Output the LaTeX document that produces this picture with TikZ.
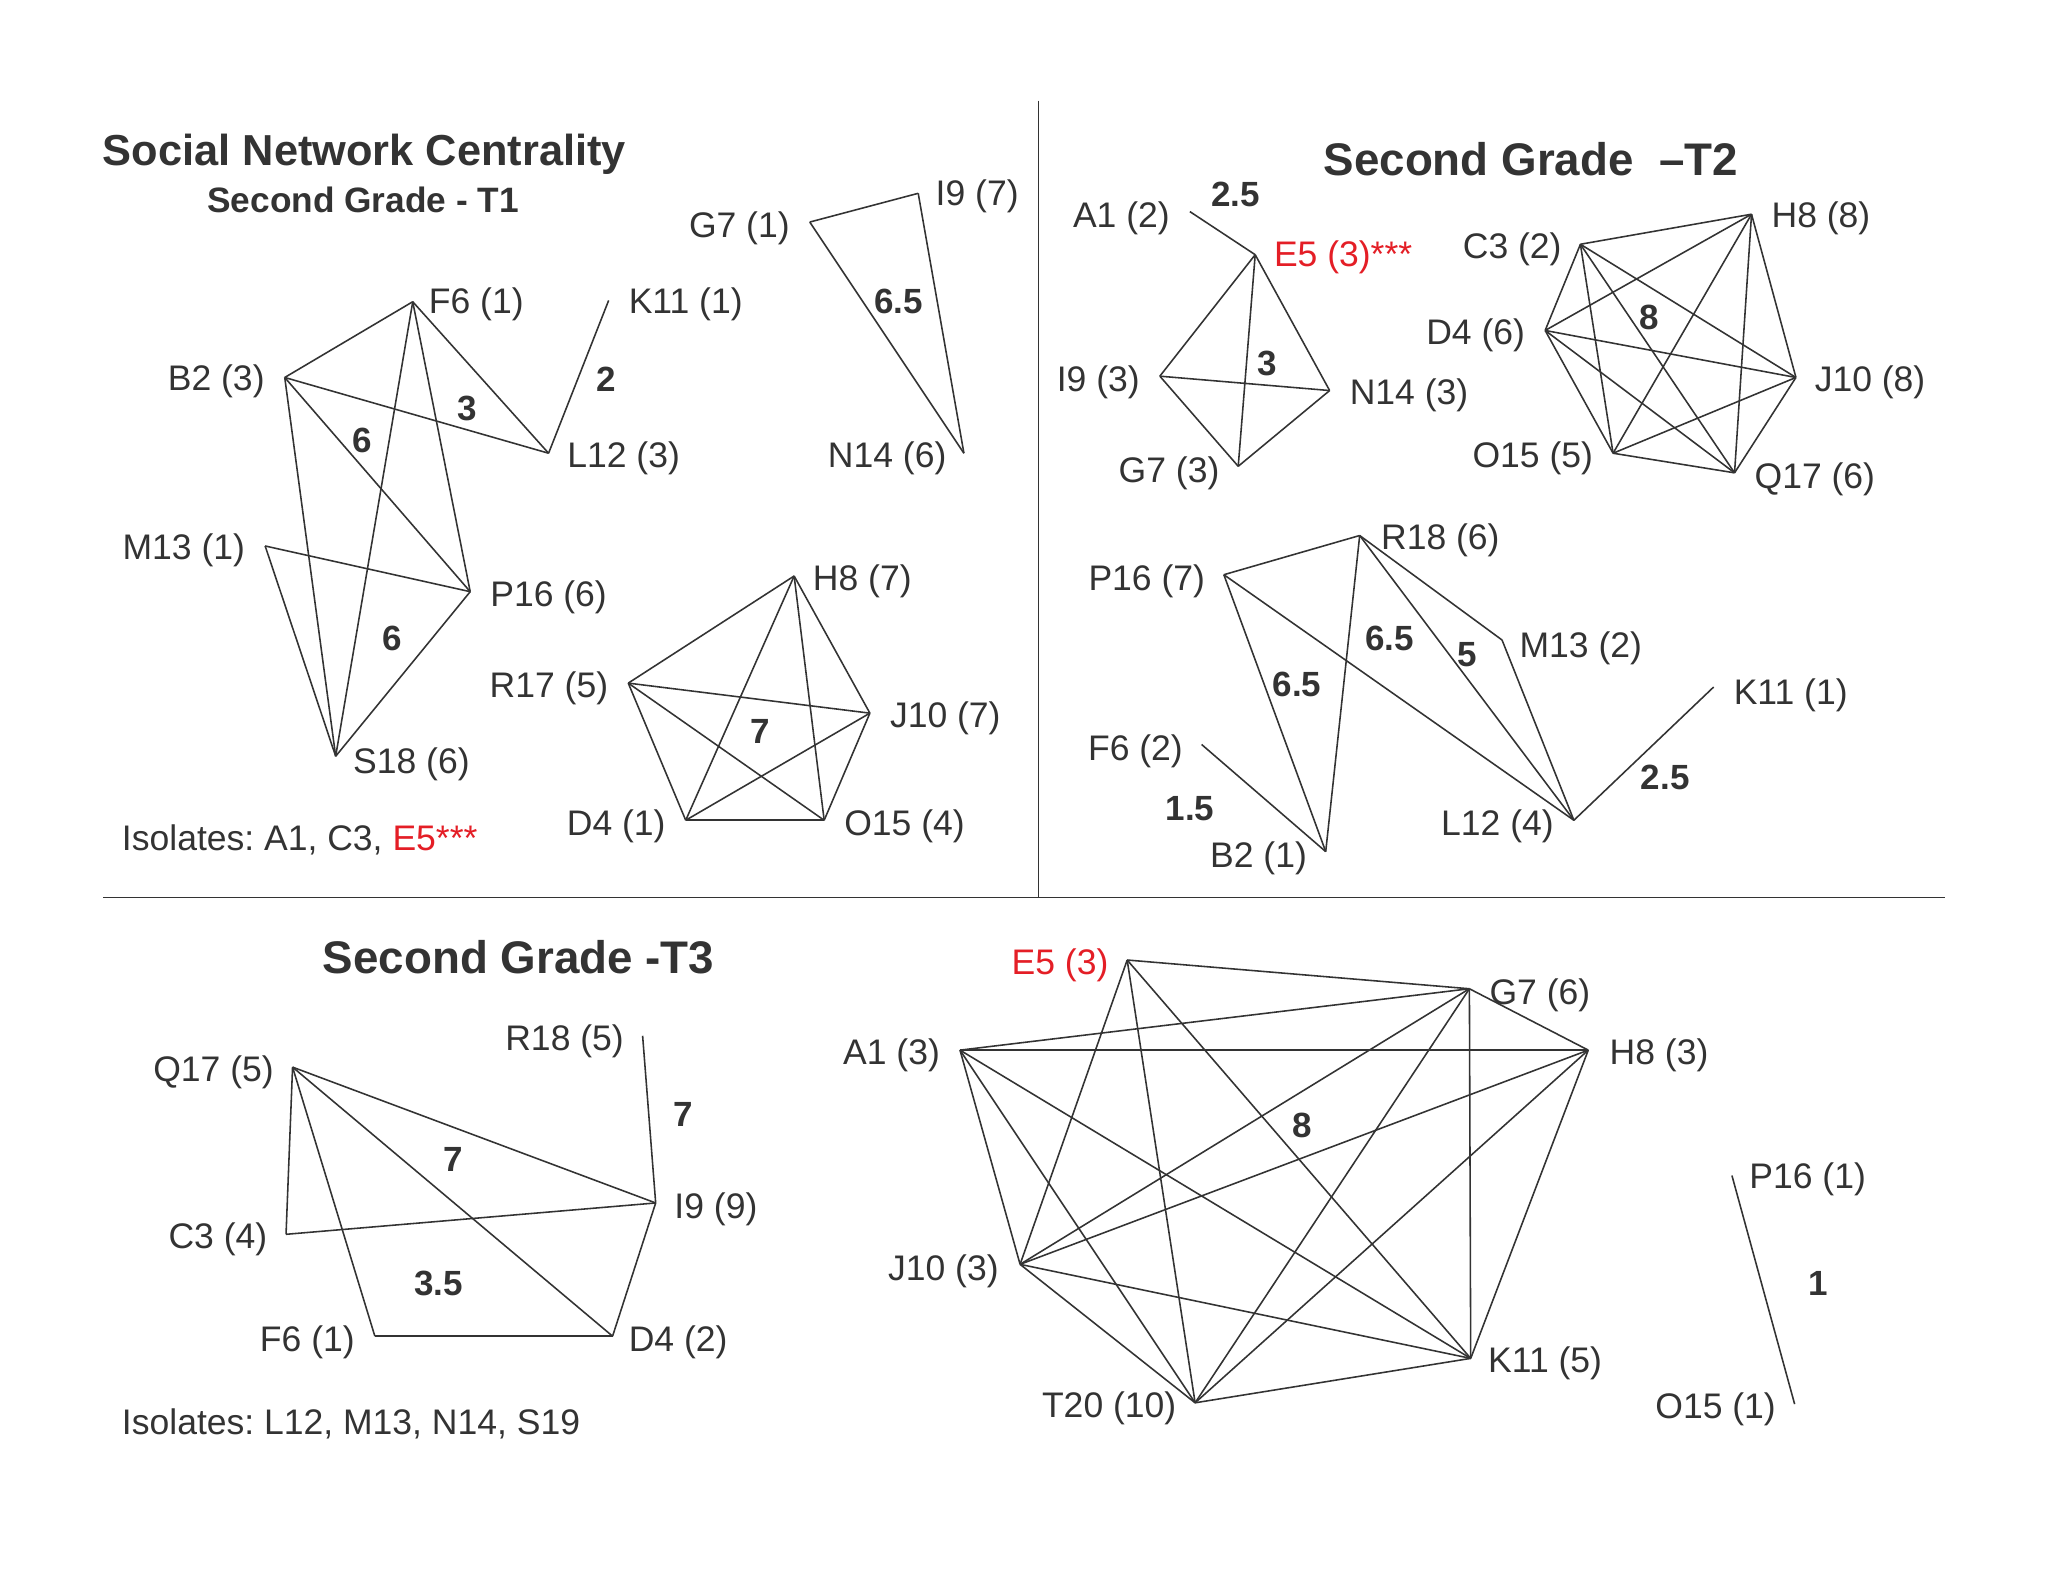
\documentclass[tikz,border=0pt]{standalone}
\usepackage{fontspec}
\setmainfont{Liberation Sans}
\frenchspacing
\definecolor{ink}{HTML}{333333}
\definecolor{redlab}{HTML}{E41E26}
\begin{document}
\begin{tikzpicture}[x=0.5pt,y=-0.5pt,
  edge/.style={draw=ink,line width=0.6pt},
  lab/.style={text=ink,inner sep=0pt,yshift=-1pt,font=\fontsize{13.6}{16}\selectfont},
  redl/.style={text=redlab,inner sep=0pt,yshift=-1pt,font=\fontsize{13.6}{16}\selectfont},
  wt/.style={text=ink,inner sep=0pt,font=\fontsize{13.4}{16}\selectfont\bfseries},
  ttl/.style={text=ink,inner sep=0pt,font=\fontsize{17.5}{20}\selectfont\bfseries},
  sub/.style={text=ink,inner sep=0pt,font=\fontsize{13.5}{16}\selectfont\bfseries}]
\fill[white] (0,0) rectangle (1568,1211);
\useasboundingbox (0,0) rectangle (1568,1211);

% dividers
\coordinate (vtop) at (795,77); \coordinate (vbot) at (795,687);
\coordinate (hl) at (79,687); \coordinate (hr) at (1489,687);
\draw[edge] (vtop) -- (vbot);
\draw[edge] (hl) -- (hr);

% ================= T1 =================
\node[ttl,font=\fontsize{16.6}{20}\selectfont\bfseries] (t1title) at (279,118) {Social Network Centrality};
\node[sub] (t1sub) at (278,153) {Second Grade - T1};

\coordinate (t1F6) at (316,231);
\coordinate (t1B2) at (218,289);
\coordinate (t1L12) at (420,347);
\coordinate (t1K11) at (466,230);
\coordinate (t1M13) at (203,418);
\coordinate (t1P16) at (360,453);
\coordinate (t1S18) at (257,579);
\coordinate (t1G7) at (620,170);
\coordinate (t1I9) at (703,148);
\coordinate (t1N14) at (738,347);
\coordinate (t1H8) at (608,441);
\coordinate (t1R17) at (481,523);
\coordinate (t1J10) at (666,546);
\coordinate (t1D4) at (525,628);
\coordinate (t1O15) at (631,628);

\draw[edge] (t1F6) -- (t1B2);
\draw[edge] (t1F6) -- (t1S18);
\draw[edge] (t1F6) -- (t1P16);
\draw[edge] (t1F6) -- (t1L12);
\draw[edge] (t1B2) -- (t1L12);
\draw[edge] (t1B2) -- (t1P16);
\draw[edge] (t1B2) -- (t1S18);
\draw[edge] (t1M13) -- (t1P16);
\draw[edge] (t1M13) -- (t1S18);
\draw[edge] (t1P16) -- (t1S18);
\draw[edge] (t1K11) -- (t1L12);
\draw[edge] (t1G7) -- (t1I9);
\draw[edge] (t1I9) -- (t1N14);
\draw[edge] (t1N14) -- (t1G7);
\foreach \a/\b in {H8/R17,H8/J10,H8/D4,H8/O15,R17/J10,R17/D4,R17/O15,J10/D4,J10/O15,D4/O15}
  \draw[edge] (t1\a) -- (t1\b);

\node[lab,anchor=west] (t1F6l) at (328,231) {F6 (1)};
\node[lab,anchor=east] (t1B2l) at (203,290) {B2 (3)};
\node[lab,anchor=west] (t1L12l) at (434,349) {L12 (3)};
\node[lab,anchor=west] (t1K11l) at (481,231) {K11 (1)};
\node[lab,anchor=east] (t1M13l) at (188,419) {M13 (1)};
\node[lab,anchor=west] (t1P16l) at (375,455) {P16 (6)};
\node[lab,anchor=west] (t1S18l) at (270,583) {S18 (6)};
\node[lab,anchor=east] (t1G7l) at (605,173) {G7 (1)};
\node[lab,anchor=west] (t1I9l) at (716,148) {I9 (7)};
\node[lab,anchor=east] (t1N14l) at (725,349) {N14 (6)};
\node[lab,anchor=west] (t1H8l) at (622,443) {H8 (7)};
\node[lab,anchor=east] (t1R17l) at (466,525) {R17 (5)};
\node[lab,anchor=west] (t1J10l) at (681,548) {J10 (7)};
\node[lab,anchor=east] (t1D4l) at (510,631) {D4 (1)};
\node[lab,anchor=west] (t1O15l) at (646,631) {O15 (4)};

\node[wt] (t1w1) at (358,313) {3};
\node[wt] (t1w2) at (277,337) {6};
\node[wt] (t1w3) at (300,489) {6};
\node[wt] (t1w4) at (464,290) {2};
\node[wt] (t1w5) at (688,231) {6.5};
\node[wt] (t1w6) at (582,560) {7};

\node[lab,anchor=west] (t1iso) at (93,641) {Isolates: A1, C3, \textcolor{redlab}{E5***}};

% ================= T2 =================
\node[ttl] (t2title) at (1172,122) {Second Grade\ \ –T2};

\coordinate (t2A1) at (911,162);
\coordinate (t2E5) at (961,195);
\coordinate (t2I9) at (888,288);
\coordinate (t2N14) at (1018,299);
\coordinate (t2G7) at (948,357);
\coordinate (t2C3) at (1210,187);
\coordinate (t2H8) at (1341,164);
\coordinate (t2D4) at (1183,253);
\coordinate (t2J10) at (1375,289);
\coordinate (t2O15) at (1235,347);
\coordinate (t2Q17) at (1328,362);
\coordinate (t2P16) at (937,440);
\coordinate (t2R18) at (1041,410);
\coordinate (t2M13) at (1150,490);
\coordinate (t2F6) at (920,570);
\coordinate (t2B2) at (1015,652);
\coordinate (t2L12) at (1205,628);
\coordinate (t2K11) at (1312,526);

\draw[edge] (t2A1) -- (t2E5);
\foreach \a/\b in {E5/I9,E5/N14,E5/G7,I9/N14,I9/G7,G7/N14}
  \draw[edge] (t2\a) -- (t2\b);
\foreach \a/\b in {C3/H8,C3/D4,C3/J10,C3/O15,C3/Q17,H8/D4,H8/J10,H8/O15,H8/Q17,D4/J10,D4/O15,D4/Q17,J10/O15,J10/Q17,O15/Q17}
  \draw[edge] (t2\a) -- (t2\b);
\foreach \a/\b in {P16/R18,P16/B2,P16/L12,R18/B2,R18/L12,R18/M13,M13/L12,F6/B2,L12/K11}
  \draw[edge] (t2\a) -- (t2\b);

\node[lab,anchor=east] (t2A1l) at (896,165) {A1 (2)};
\node[redl,anchor=west] (t2E5l) at (975,195) {E5 (3)***};
\node[lab,anchor=east] (t2I9l) at (873,291) {I9 (3)};
\node[lab,anchor=west] (t2N14l) at (1033,301) {N14 (3)};
\node[lab,anchor=east] (t2G7l) at (934,360) {G7 (3)};
\node[lab,anchor=east] (t2C3l) at (1196,189) {C3 (2)};
\node[lab,anchor=west] (t2H8l) at (1356,165) {H8 (8)};
\node[lab,anchor=east] (t2D4l) at (1168,255) {D4 (6)};
\node[lab,anchor=west] (t2J10l) at (1389,291) {J10 (8)};
\node[lab,anchor=east] (t2O15l) at (1220,349) {O15 (5)};
\node[lab,anchor=west] (t2Q17l) at (1343,365) {Q17 (6)};
\node[lab,anchor=east] (t2P16l) at (923,443) {P16 (7)};
\node[lab,anchor=west] (t2R18l) at (1057,412) {R18 (6)};
\node[lab,anchor=west] (t2M13l) at (1163,494) {M13 (2)};
\node[lab,anchor=east] (t2F6l) at (906,573) {F6 (2)};
\node[lab,anchor=east] (t2B2l) at (1001,655) {B2 (1)};
\node[lab,anchor=east] (t2L12l) at (1190,631) {L12 (4)};
\node[lab,anchor=west] (t2K11l) at (1327,530) {K11 (1)};

\node[wt] (t2w1) at (946,149) {2.5};
\node[wt] (t2w2) at (970,278) {3};
\node[wt] (t2w3) at (1263,243) {8};
\node[wt] (t2w4) at (1064,489) {6.5};
\node[wt] (t2w5) at (1123,501) {5};
\node[wt] (t2w6) at (993,524) {6.5};
\node[wt] (t2w7) at (911,619) {1.5};
\node[wt] (t2w8) at (1275,595) {2.5};

% ================= T3 =================
\node[ttl] (t3title) at (397,733) {Second Grade -T3};

\coordinate (t3Q17) at (224,817);
\coordinate (t3R18) at (492,793);
\coordinate (t3I9) at (502,921);
\coordinate (t3C3) at (219,945);
\coordinate (t3F6) at (287,1023);
\coordinate (t3D4) at (469,1023);

\foreach \a/\b in {Q17/I9,Q17/D4,Q17/C3,Q17/F6,C3/I9,F6/D4,D4/I9,R18/I9}
  \draw[edge] (t3\a) -- (t3\b);

\node[lab,anchor=east] (t3Q17l) at (210,819) {Q17 (5)};
\node[lab,anchor=east] (t3R18l) at (478,795) {R18 (5)};
\node[lab,anchor=west] (t3I9l) at (516,924) {I9 (9)};
\node[lab,anchor=east] (t3C3l) at (205,947) {C3 (4)};
\node[lab,anchor=east] (t3F6l) at (272,1026) {F6 (1)};
\node[lab,anchor=west] (t3D4l) at (481,1026) {D4 (2)};

\node[wt] (t3w1) at (523,853) {7};
\node[wt] (t3w2) at (347,888) {7};
\node[wt] (t3w3) at (336,983) {3.5};

\node[lab,anchor=west] (t3iso) at (93,1088) {Isolates: L12, M13, N14, S19};

\coordinate (t3E5) at (863,735);
\coordinate (t3G7) at (1125,757);
\coordinate (t3A1) at (735,804);
\coordinate (t3H8) at (1216,804);
\coordinate (t3J10) at (781,968);
\coordinate (t3K11) at (1126,1040);
\coordinate (t3T20) at (915,1074);
\coordinate (t3P16) at (1326,900);
\coordinate (t3O15) at (1374,1075);

\foreach \a/\b in {E5/G7,E5/J10,E5/T20,E5/K11,G7/A1,G7/H8,G7/J10,G7/T20,G7/K11,A1/H8,A1/J10,A1/T20,A1/K11,H8/J10,H8/T20,H8/K11,J10/K11,J10/T20,T20/K11,P16/O15}
  \draw[edge] (t3\a) -- (t3\b);

\node[redl,anchor=east] (t3E5l) at (849,737) {E5 (3)};
\node[lab,anchor=west] (t3G7l) at (1140,760) {G7 (6)};
\node[lab,anchor=east] (t3A1l) at (720,806) {A1 (3)};
\node[lab,anchor=west] (t3H8l) at (1232,806) {H8 (3)};
\node[lab,anchor=east] (t3J10l) at (765,971) {J10 (3)};
\node[lab,anchor=west] (t3K11l) at (1139,1042) {K11 (5)};
\node[lab,anchor=east] (t3T20l) at (901,1076) {T20 (10)};
\node[lab,anchor=west] (t3P16l) at (1339,901) {P16 (1)};
\node[lab,anchor=east] (t3O15l) at (1360,1077) {O15 (1)};

\node[wt] (t3w4) at (997,862) {8};
\node[wt] (t3w5) at (1392,983) {1};
\end{tikzpicture}
\end{document}
